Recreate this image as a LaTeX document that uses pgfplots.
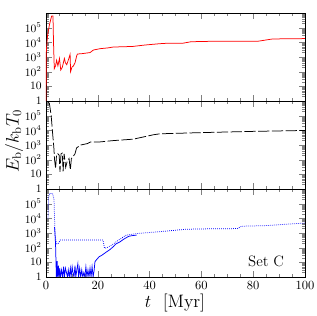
\documentclass[border=0pt]{standalone}
\usepackage{pgfplots}
\pgfplotsset{compat=1.18}
\pgfplotstableread{
t E
0 1
0.15 3000
0.6 30000
1.3 150000
1.9 400000
2.2 630000
2.7 630000
2.9 10000
3.2 160
3.7 250
4.1 600
4.6 250
5.2 800
5.7 130
6.3 200
7.1 800
7.5 400
8.0 300
8.6 600
9.3 1500
9.5 100
10.0 200
10.6 250
11.2 400
11.9 1300
12.2 1600
14 1700
16 1900
17 2000
18.3 3000
20.9 3700
24 4200
26 4800
30 5000
33.7 5300
38 6500
44 8100
46 8500
53 8800
56 11000
66 12000
82 12000
87.5 17000
100 18000
}\redtab
\pgfplotstableread{
t E
0.8 800000
1.3 700000
2.0 100000
2.6 5000
3.0 800
3.3 100
3.7 25
4.1 250
4.6 250
5.1 200
5.4 15
5.8 250
6.3 280
6.6 16
7.0 250
7.6 30
8.2 80
8.9 120
9.4 20
9.8 120
10.2 140
11.2 250
11.8 630
13.4 1000
16 1250
17.2 1600
20.5 1600
26 2000
33.7 2500
41.5 5000
44 5800
60 7000
80 8500
100 9800
}\blacktab
\pgfplotstableread{
t E
3.3 2500
3.5 800
3.7 150
4.0 1
4.3 12
4.5 1
4.8 6
5.0 1
5.3 4
5.6 1
6.0 3
6.4 1
6.8 5
7.1 1
7.5 4
7.9 2
8.3 1
8.6 3
9.0 1
9.4 4
9.7 1
10.1 5
10.4 2
10.8 1
11.2 6
11.5 1
11.9 3
12.3 8
12.6 1
13.0 4
13.4 1
13.8 3
14.2 1
14.6 2
15.0 1
15.4 5
15.8 1
16.2 3
16.6 1
17.0 4
17.4 1
17.8 5
18.2 1
18.6 3
18.9 11
19.5 15
20.5 24
21.5 30
22.5 40
23.4 52
24.5 70
26 117
27 180
28.6 250
30 380
31.2 500
32 600
33 650
35 720
}\bluetab
\pgfplotstableread{
t E
0.8 10000
1.0 300000
1.5 500000
2.5 500000
3.1 200000
3.3 10000
3.5 600
3.8 300
4.2 180
4.8 200
5.5 330
10 330
22 330
22.6 90
23.5 100
25.4 150
28 330
31 720
36 950
44 1230
54 1800
60 1900
74 2000
75.5 2900
85 3200
100 4800
}\bluedtab
\begin{document}
\begin{tikzpicture}
\useasboundingbox (0,0) rectangle (252.8pt,252.8pt);
\begin{axis}[ymode=log, width=207.2pt, height=70.4pt, scale only axis,
    xmin=0, xmax=100, ymin=1, ymax=1e6,
    xtick={0,20,40,60,80,100}, minor x tick num=3,
    ytick={1,10,100,1000,10000,100000,1000000},
    yticklabels={$1$,$10$,$10^2$,$10^3$,$10^4$,$10^5$,},
    xticklabels={},
    tick align=inside, tick pos=both,
    major tick length=5pt, minor tick length=2.5pt,
    yticklabel style={font=\small},
    anchor=south west, at={(36.8pt,172pt)}]
\addplot[red, line width=0.6pt] table[x=t,y=E] {\redtab};
\end{axis}
\begin{axis}[ymode=log, width=207.2pt, height=70.4pt, scale only axis,
    xmin=0, xmax=100, ymin=1, ymax=1e6,
    xtick={0,20,40,60,80,100}, minor x tick num=3,
    ytick={1,10,100,1000,10000,100000,1000000},
    yticklabels={$1$,$10$,$10^2$,$10^3$,$10^4$,$10^5$,},
    xticklabels={},
    tick align=inside, tick pos=both,
    major tick length=5pt, minor tick length=2.5pt,
    yticklabel style={font=\small},
    anchor=south west, at={(36.8pt,101.6pt)}]
\addplot[black, line width=0.6pt, dash pattern=on 9pt off 2pt] table[x=t,y=E] {\blacktab};
\end{axis}
\begin{axis}[ymode=log, width=207.2pt, height=70.4pt, scale only axis,
    xmin=0, xmax=100, ymin=1, ymax=1e6,
    xtick={0,20,40,60,80,100}, minor x tick num=3,
    ytick={1,10,100,1000,10000,100000,1000000},
    yticklabels={$1$,$10$,$10^2$,$10^3$,$10^4$,$10^5$,},
    tick align=inside, tick pos=both,
    major tick length=5pt, minor tick length=2.5pt,
    yticklabel style={font=\small},
    anchor=south west, at={(36.8pt,31.2pt)}]
\addplot[blue, line width=0.6pt] table[x=t,y=E] {\bluetab};
\addplot[blue, line width=0.6pt, densely dotted] table[x=t,y=E] {\bluedtab};
\node[font=\large] at (axis cs:85,11) {Set C};
\end{axis}
\node[rotate=90] at (11.2pt,140pt) {\Large $E_{\mathrm{b}}/k_{\mathrm{b}}T_0$};
\node at (140pt,10.4pt) {\Large $t$~~[Myr]};
\end{tikzpicture}
\end{document}
